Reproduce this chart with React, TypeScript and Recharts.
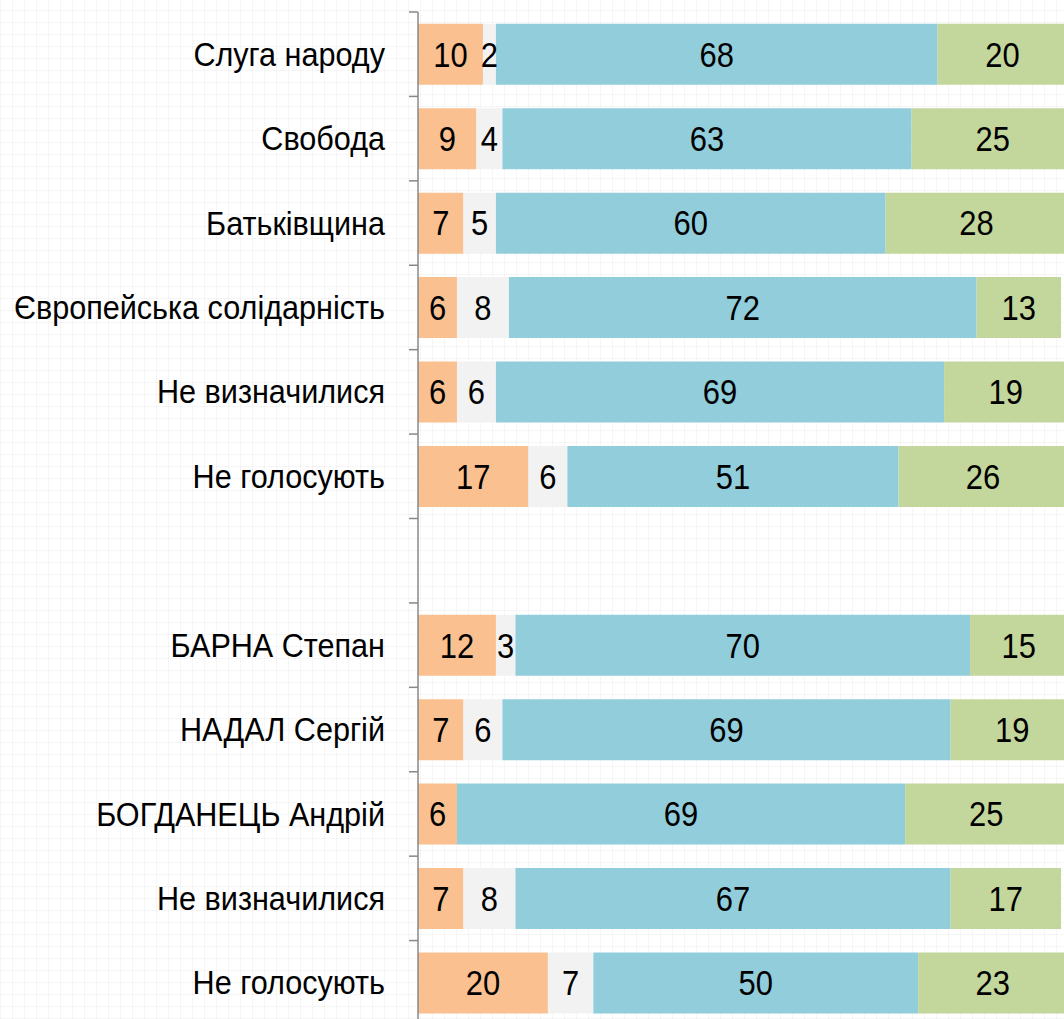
import React from 'react';
import { BarChart, Bar, XAxis, YAxis, LabelList } from 'recharts';

const categories = [
  'Слуга народу',
  'Свобода',
  'Батьківщина',
  'Європейська солідарність',
  'Не визначилися',
  'Не голосують',
  '',
  'БАРНА Степан',
  'НАДАЛ Сергій',
  'БОГДАНЕЦЬ Андрій',
  'Не визначилися',
  'Не голосують',
];
const orangeValues = [10, 9, 7, 6, 6, 17, null, 12, 7, 6, 7, 20];
const greyValues = [2, 4, 5, 8, 6, 6, null, 3, 6, 0, 8, 7];
const blueValues = [68, 63, 60, 72, 69, 51, null, 70, 69, 69, 67, 50];
const greenValues = [20, 25, 28, 13, 19, 26, null, 15, 19, 25, 17, 23];

const data = categories.map((name, i) => ({
  id: i,
  name,
  orange: orangeValues[i],
  grey: greyValues[i],
  blue: blueValues[i],
  green: greenValues[i],
}));

const FONT = '"Liberation Sans", Arial, sans-serif';
const AXIS_X = 418;
const TOP = 12;
const PLOT_H = 1013;
const BAND = PLOT_H / categories.length;

const CategoryTick = (props: any) => {
  const { y, payload } = props;
  return (
    <g>
      <line x1={AXIS_X - 9} x2={AXIS_X} y1={y - BAND / 2} y2={y - BAND / 2} stroke="#888" strokeWidth={1.5} />
      <text
        transform={`translate(${AXIS_X - 33},${y}) scale(0.9,1)`}
        textAnchor="end"
        dominantBaseline="central"
        fontFamily={FONT}
        fontSize={34}
        fill="#000"
      >
        {categories[payload.value]}
      </text>
    </g>
  );
};

const ValueLabel = (props: any) => {
  const { x, y, width, height, value } = props;
  if (!value) return null;
  return (
    <text
      transform={`translate(${x + width / 2},${y + height / 2}) scale(0.86,1)`}
      textAnchor="middle"
      dominantBaseline="central"
      fontFamily={FONT}
      fontSize={36}
      fill="#000"
    >
      {value}
    </text>
  );
};

const series = [
  { key: 'orange', color: '#FAC090' },
  { key: 'grey', color: '#F2F2F2' },
  { key: 'blue', color: '#92CDDC' },
  { key: 'green', color: '#C3D69B' },
];

const gridBg =
  'repeating-linear-gradient(0deg, rgba(0,0,0,0.035) 0 1px, transparent 1px 12px),' +
  'repeating-linear-gradient(90deg, rgba(0,0,0,0.035) 0 1px, transparent 1px 12px), #fff';

export default function App() {
  return (
    <div
      style={{
        position: 'fixed',
        left: 0,
        top: 0,
        width: 1064,
        height: 1019,
        overflow: 'hidden',
        background: gridBg,
      }}
    >
      <BarChart
        width={1074}
        height={TOP + PLOT_H}
        data={data}
        layout="vertical"
        margin={{ top: TOP, right: 0, bottom: 0, left: 0 }}
        barCategoryGap="14%"
      >
        <XAxis type="number" domain={[0, 100]} hide />
        <YAxis
          type="category"
          dataKey="id"
          width={AXIS_X}
          tickLine={false}
          axisLine={{ stroke: '#888', strokeWidth: 1.5 }}
          tick={<CategoryTick />}
          interval={0}
        />
        {series.map((s) => (
          <Bar key={s.key} dataKey={s.key} stackId="a" fill={s.color} isAnimationActive={false}>
            <LabelList dataKey={s.key} content={<ValueLabel />} />
          </Bar>
        ))}
      </BarChart>
    </div>
  );
}
